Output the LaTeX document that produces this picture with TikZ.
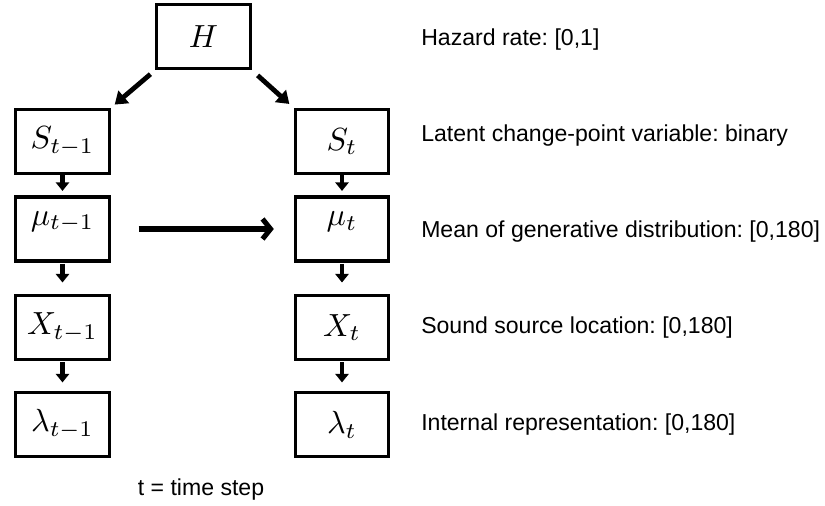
\documentclass[tikz,border=0pt]{standalone}
\usepackage{graphicx}
\usepackage{fontspec}
\setmainfont{Liberation Sans}
\frenchspacing
\usetikzlibrary{arrows.meta}
\newcommand{\mathlbl}[1]{\scalebox{2.4}{$#1$}}
\begin{document}
\begin{tikzpicture}[x=0.75pt,y=-0.75pt,
  box/.style={draw, line width=2.3pt, minimum width=70pt, minimum height=48pt, inner sep=0pt},
  lbl/.style={anchor=west, inner sep=0pt, font=\fontsize{17.3}{20}\selectfont},
  varrow/.style={line width=3.2pt, -{Triangle[length=6.5pt,width=10pt]}},
  darrow/.style={line width=3.6pt, -{Triangle[length=9pt,width=12pt]}},
  harrow/.style={line width=3.8pt, -{Straight Barb[length=6pt,width=15pt]}, line join=miter}]
\useasboundingbox (0,0) rectangle (825,506);
\node[box] (h) at (203.5,36.5) {\mathlbl{H}};
\node[box] (s1) at (62.5,141.5) {\mathlbl{S_{t-1}}};
\node[box] (s2) at (342,141.5) {\mathlbl{S_t}};
\node[box] (m1) at (62.5,229) {};
\node[box] (m2) at (342,229) {};
\node[inner sep=0pt] (m1t) at (62.5,222) {\mathlbl{\mu_{t-1}}};
\node[inner sep=0pt] (m2t) at (342,222) {\mathlbl{\mu_t}};
\node[box] (x1) at (62.5,327.5) {\mathlbl{X_{t-1}}};
\node[box] (x2) at (342,327.5) {\mathlbl{X_t}};
\node[box] (l1) at (62.5,424.5) {\mathlbl{\lambda_{t-1}}};
\node[box] (l2) at (342,424.5) {\mathlbl{\lambda_t}};
\draw[darrow, shorten <=4.8pt, shorten >=3.9pt] (h.south west) -- (s1.north east);
\draw[darrow, shorten <=6pt, shorten >=4.5pt] (h.south east) -- (s2.north west);
\draw[harrow, shorten <=21pt, shorten >=15pt] (m1.east) -- (m2.west);
\foreach \c in {1,2}{
  \draw[varrow, shorten >=3.4pt] (s\c.south) -- (m\c.north);
  \draw[varrow, shorten <=1pt, shorten >=8.6pt] (m\c.south) -- (x\c.north);
  \draw[varrow, shorten <=1pt, shorten >=6.4pt] (x\c.south) -- (l\c.north);
}
\node[lbl] (th) at (421,40) {Hazard rate: [0,1]};
\node[lbl] (ts) at (421,136) {Latent change-point variable: binary};
\node[lbl] (tm) at (421,232) {Mean of generative distribution: [0,180]};
\node[lbl] (tx) at (421,328) {Sound source location: [0,180]};
\node[lbl] (tl) at (421,425) {Internal representation: [0,180]};
\node[inner sep=0pt, font=\fontsize{17.3}{20}\selectfont] (tt) at (201,490) {t = time step};
\end{tikzpicture}
\end{document}
